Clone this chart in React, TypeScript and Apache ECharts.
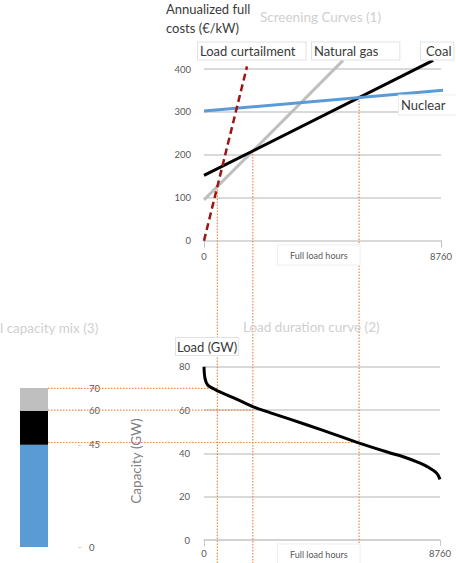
import React, { useEffect, useRef } from 'react';
import * as echarts from 'echarts';

// Screening curves (hours, €/kW)
const curtailment = [[0, 0], [1590, 406]];
const naturalGas = [[0, 95], [5140, 420]];
const coal = [[0, 152], [8470, 420]];
const nuclear = [[0, 302], [9320, 353]];

// Load duration curve
const ldcHours = [0, 37, 140, 446, 900, 1350, 1810, 2500, 3185, 4420, 5790, 6880, 7450, 8020, 8270, 8640, 8760];
const ldcLoad = [80, 74.6, 71.5, 69.2, 66.7, 64.2, 61.6, 58.6, 55.8, 50.6, 44.6, 40.3, 38.2, 35.5, 34, 30.8, 28];

// Capacity mix (GW)
const mixNames = ['Nuclear', 'Coal', 'Natural gas'];
const mixValues = [45, 15, 10];
const mixColors = ['#5b9bd5', '#000000', '#bfbfbf'];

const hourTicks = [0, 8760];

const FONT = 'Lato, "Liberation Sans", sans-serif';

function slope(l: number[][]) {
  return (l[1][1] - l[0][1]) / (l[1][0] - l[0][0]);
}
function intersect(a: number[][], b: number[][]) {
  const sa = slope(a), sb = slope(b);
  const h = (b[0][1] - a[0][1]) / (sa - sb);
  return [h, a[0][1] + sa * h];
}

export default function App() {
  const ref = useRef<HTMLDivElement>(null);
  useEffect(() => {
    const chart = echarts.init(ref.current!, null, { renderer: 'svg' });
    const tickLabel = { fontSize: 9.5, color: '#595959', fontFamily: FONT };
    const split = { show: true, lineStyle: { color: '#d9d9d9', width: 2 } };
    const plain = (v: number) => String(v);
    const option: any = {
      animation: false,
      grid: [
        { left: 204, top: 69, width: 237, height: 171.7 },
        { left: 204, top: 366.7, width: 236, height: 173.3 },
        { left: 20, top: 388, width: 28, height: 159 },
      ],
      xAxis: [
        {
          gridIndex: 0, type: 'value', min: hourTicks[0], max: hourTicks[1], interval: hourTicks[1],
          axisLine: { show: true, lineStyle: { color: '#d9d9d9', width: 2 } },
          axisTick: { show: true, length: 7, lineStyle: { color: '#bfbfbf' } },
          axisLabel: { ...tickLabel, margin: 11, formatter: plain },
          splitLine: { show: false },
        },
        {
          gridIndex: 1, type: 'value', min: hourTicks[0], max: hourTicks[1], interval: hourTicks[1],
          axisLine: { show: true, lineStyle: { color: '#d0d0d0', width: 1.5 } },
          axisTick: { show: true, length: 6, lineStyle: { color: '#c8c8c8' } },
          axisLabel: { ...tickLabel, margin: 8, formatter: plain },
          splitLine: { show: false },
        },
        { gridIndex: 2, type: 'category', data: ['mix'], show: false },
      ],
      yAxis: [
        {
          gridIndex: 0, type: 'value', min: 0, max: 400, interval: 100,
          axisLine: { show: false }, axisTick: { show: false },
          axisLabel: { ...tickLabel, margin: 13 }, splitLine: split,
        },
        {
          gridIndex: 1, type: 'value', min: 0, max: 80, interval: 20,
          axisLine: { show: false }, axisTick: { show: false },
          axisLabel: { ...tickLabel, margin: 14 }, splitLine: split,
        },
        {
          gridIndex: 2, type: 'value', min: 0, max: 70, position: 'right', offset: 30,
          axisLine: { show: false },
          axisTick: { show: true, length: 3, lineStyle: { color: '#d0d0d0' }, customValues: [0, 45, 60, 70] },
          axisLabel: { ...tickLabel, margin: 11, customValues: [0, 45, 60, 70] },
          splitLine: { show: false },
        },
      ],
      series: [
        { type: 'line', name: 'Natural gas', xAxisIndex: 0, yAxisIndex: 0, data: naturalGas, symbol: 'none', clip: false, lineStyle: { color: '#bfbfbf', width: 3 }, z: 3 },
        { type: 'line', name: 'Coal', xAxisIndex: 0, yAxisIndex: 0, data: coal, symbol: 'none', clip: false, lineStyle: { color: '#000', width: 3 }, z: 4 },
        { type: 'line', name: 'Nuclear', xAxisIndex: 0, yAxisIndex: 0, data: nuclear, symbol: 'none', clip: false, lineStyle: { color: '#5b9bd5', width: 3 }, z: 5 },
        { type: 'line', name: 'Load curtailment', xAxisIndex: 0, yAxisIndex: 0, data: curtailment, symbol: 'none', clip: false, lineStyle: { color: '#9c1515', width: 2.5, type: [7, 4] }, z: 6 },
        {
          type: 'line', name: 'Load', xAxisIndex: 1, yAxisIndex: 1,
          data: ldcHours.map((h, i) => [h, ldcLoad[i]]),
          symbol: 'none', smooth: 0.3, clip: false, lineStyle: { color: '#000', width: 3 }, z: 5,
        },
        ...mixNames.map((n, i) => ({
          type: 'bar', name: n, xAxisIndex: 2, yAxisIndex: 2, stack: 'mix', barWidth: 28,
          data: [mixValues[i]], itemStyle: { color: mixColors[i] },
        })),
      ],
    };
    chart.setOption(option);

    // Crossing points of screening curves and matching cumulative capacities
    const crossings = [
      intersect(curtailment, naturalGas),
      intersect(naturalGas, coal),
      intersect(coal, nuclear),
    ];
    const cum: number[] = [];
    mixValues.reduce((s, v) => { cum.push(s + v); return s + v; }, 0);
    const levels = [cum[2], cum[1], cum[0]];
    const barRight = (chart.convertToPixel({ gridIndex: 2 } as any, [0, 0]) as number[])[0] + 14;

    const dot = { stroke: '#ee8a4a', lineWidth: 1.2, lineDash: [1.5, 1.5] };
    const lines: any[] = [];
    crossings.forEach((c, i) => {
      const top = chart.convertToPixel({ gridIndex: 0 } as any, c) as number[];
      lines.push({ type: 'line', z: 1, shape: { x1: top[0], y1: top[1], x2: top[0], y2: 563 }, style: dot });
      const p = chart.convertToPixel({ gridIndex: 1 } as any, [c[0], levels[i]]) as number[];
      lines.push({ type: 'line', z: 1, shape: { x1: barRight, y1: p[1], x2: p[0], y2: p[1] }, style: dot });
    });

    const txt = (text: string, x: number, y: number, size: number, fill: string, extra: any = {}, el: any = {}) => ({
      type: 'text', x, y, z: 10, ...el,
      style: { text, font: `normal ${size}px ${FONT}`, fill, align: 'left', verticalAlign: 'middle', textAlign: 'left', textVerticalAlign: 'middle', ...extra },
    });
    const boxed = { backgroundColor: '#fff', borderColor: '#e2e2e2', borderWidth: 1, padding: [2, 3, 2, 3] };
    const dark = '#3a3a3a';

    const texts = [
      txt('Annualized full', 166, 9, 13, dark),
      txt('costs (€/kW)', 166, 28, 13, dark),
      txt('Screening Curves (1)', 260, 17, 13.5, '#d0d0d0'),
      txt('Load curtailment', 198, 51, 13, dark, { ...boxed, padding: [2, 10, 2, 2] }),
      txt('Natural gas', 312, 51, 13, dark, { ...boxed, padding: [2, 21, 2, 2] }),
      txt('Coal', 421, 51, 13, dark, { ...boxed, padding: [2, 2, 2, 5] }),
      txt('Nuclear', 399, 105, 13, dark, { ...boxed, borderColor: '#ececec', padding: [3, 12, 3, 2] }),
      txt('Full load hours', 278, 255, 9, '#595959', { ...boxed, borderColor: '#eeeeee', padding: [5, 12, 5, 12] }),
      txt('Full load hours', 278, 554, 9, '#595959', { ...boxed, borderColor: '#eeeeee', padding: [5, 12, 5, 12] }),
      txt('l capacity mix (3)', 0, 328, 13.5, '#d0d0d0'),
      txt('Load duration curve (2)', 243, 327, 13.5, '#d0d0d0'),
      txt('Load (GW)', 176, 346.5, 13, dark, { ...boxed, padding: [2, 1, 2, 1] }),
      txt('Capacity (GW)', 136, 461, 13.5, '#808080', { align: 'center', textAlign: 'center' }, { rotation: Math.PI / 2 }),
    ];

    chart.setOption({ graphic: [...lines, ...texts] });
    return () => chart.dispose();
  }, []);
  return <div ref={ref} style={{ position: 'fixed', left: 0, top: 0, width: 456, height: 563, background: '#fff' }} />;
}
